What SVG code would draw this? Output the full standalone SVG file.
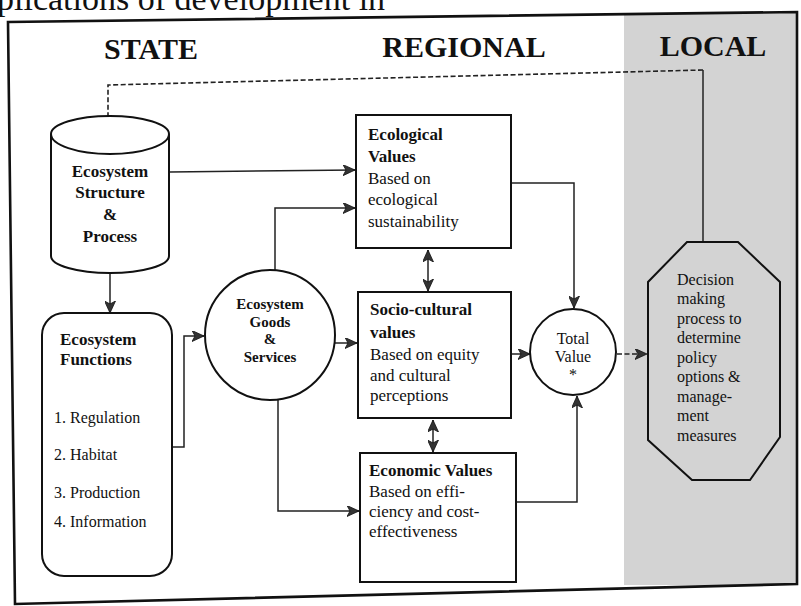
<svg xmlns="http://www.w3.org/2000/svg" width="801" height="606" viewBox="0 0 801 606">
<defs>
<marker id="ah" markerUnits="userSpaceOnUse" markerWidth="13" markerHeight="11" refX="12" refY="5.5" orient="auto-start-reverse" viewBox="0 0 13 11">
<path d="M0,0 L12,5.5 L0,11 L3,5.5 z" fill="#333" stroke="#111" stroke-width="0.8"/>
</marker>
</defs>
<style>
text{font-family:"Liberation Serif","Times New Roman",serif;fill:#111}
.h{font-size:30px;font-weight:bold;text-anchor:middle}
.b{font-size:17px;font-weight:bold}
.r{font-size:17px}
.c{text-anchor:middle}
.it{font-size:16px}
.oc{font-size:16px}
.g{font-size:15px;font-weight:bold;text-anchor:middle}
.shape{fill:#fff;stroke:#111;stroke-width:2}
.con{fill:none;stroke:#222;stroke-width:1.5}
.dash{fill:none;stroke:#222;stroke-width:1.6;stroke-dasharray:5,2.5}
</style>
<rect width="801" height="606" fill="#fff"/>
<text x="-3" y="10" style="font-size:34px">plications of development in</text>
<rect x="624" y="13" width="173" height="572" fill="#d3d3d3"/>
<polygon points="8,22 797,12 797,584 15,604" fill="none" stroke="#111" stroke-width="2.6"/>
<text class="h" x="151" y="59">STATE</text>
<text class="h" x="464" y="57">REGIONAL</text>
<text class="h" x="713" y="56">LOCAL</text>

<g id="connectors">
<line class="con" x1="703" y1="242" x2="703" y2="70"/>
<path class="dash" d="M703,70 L108,85 L108,134" marker-end="url(#ah)"/>
<path class="con" d="M110,273 L110,313" marker-end="url(#ah)"/>
<path class="con" d="M172,447 L184,447 L184,336 L204,336" marker-end="url(#ah)"/>
<path class="con" d="M170,172 L355,170" marker-end="url(#ah)"/>
<path class="con" d="M275,271 L275,208 L355,208" marker-end="url(#ah)"/>
<path class="con" d="M335,343 L357,343" marker-end="url(#ah)"/>
<path class="con" d="M278,400 L278,511 L359,511" marker-end="url(#ah)"/>
<path class="con" d="M428,250 L428,291" marker-start="url(#ah)" marker-end="url(#ah)"/>
<path class="con" d="M433,420 L433,452" marker-start="url(#ah)" marker-end="url(#ah)"/>
<path class="con" d="M511,183 L574,183 L574,308" marker-end="url(#ah)"/>
<path class="con" d="M511,354 L530,354" marker-end="url(#ah)"/>
<path class="con" d="M516,502 L577,502 L577,396" marker-end="url(#ah)"/>
<path class="dash" d="M617,354 L647,354" marker-end="url(#ah)"/>
</g>

<g id="structure">
<path class="shape" d="M51,134 L51,256 A59,17 0 0 0 169,256 L169,134 A59,18 0 0 0 51,134 A59,20 0 0 0 169,134"/>
<text class="b c" x="110" y="177">Ecosystem</text>
<text class="b c" x="110" y="198">Structure</text>
<text class="b c" x="110" y="220">&amp;</text>
<text class="b c" x="110" y="242">Process</text>
</g>

<g id="functions">
<rect class="shape" x="42" y="313" width="130" height="263" rx="22"/>
<text class="b" x="60" y="345">Ecosystem</text>
<text class="b" x="60" y="365">Functions</text>
<text class="it" x="54" y="423">1. Regulation</text>
<text class="it" x="54" y="460">2. Habitat</text>
<text class="it" x="54" y="498">3. Production</text>
<text class="it" x="54" y="527">4. Information</text>
</g>

<g id="goods">
<circle class="shape" cx="270" cy="335" r="65"/>
<text class="g" x="270" y="309">Ecosystem</text>
<text class="g" x="270" y="327">Goods</text>
<text class="g" x="270" y="344">&amp;</text>
<text class="g" x="270" y="362">Services</text>
</g>

<g id="ecological">
<rect class="shape" x="356" y="115" width="155" height="133"/>
<text class="b" x="368" y="140">Ecological</text>
<text class="b" x="368" y="162">Values</text>
<text class="r" x="368" y="184">Based on</text>
<text class="r" x="368" y="205">ecological</text>
<text class="r" x="368" y="227">sustainability</text>
</g>

<g id="sociocultural">
<rect class="shape" x="358" y="292" width="153" height="126"/>
<text class="b" x="370" y="315">Socio-cultural</text>
<text class="b" x="370" y="338">values</text>
<text class="r" x="370" y="360">Based on equity</text>
<text class="r" x="370" y="381">and cultural</text>
<text class="r" x="370" y="401">perceptions</text>
</g>

<g id="economic">
<rect class="shape" x="360" y="453" width="156" height="129"/>
<text class="b" x="369" y="476">Economic Values</text>
<text class="r" x="369" y="497">Based on effi-</text>
<text class="r" x="369" y="517">ciency and cost-</text>
<text class="r" x="369" y="537">effectiveness</text>
</g>

<g id="total">
<circle class="shape" cx="573" cy="352" r="43"/>
<text class="it c" x="573" y="344">Total</text>
<text class="it c" x="573" y="362">Value</text>
<text class="it c" x="573" y="380">*</text>
</g>

<g id="decision">
<polygon points="687,242 738,242 780,282 780,437 750,480 692,480 648,440 648,282" fill="#d3d3d3" stroke="#111" stroke-width="2"/>
<text class="oc" x="677" y="285">Decision</text>
<text class="oc" x="677" y="304">making</text>
<text class="oc" x="677" y="324">process to</text>
<text class="oc" x="677" y="343">determine</text>
<text class="oc" x="677" y="363">policy</text>
<text class="oc" x="677" y="382">options &amp;</text>
<text class="oc" x="677" y="402">manage-</text>
<text class="oc" x="677" y="421">ment</text>
<text class="oc" x="677" y="441">measures</text>
</g>
</svg>
